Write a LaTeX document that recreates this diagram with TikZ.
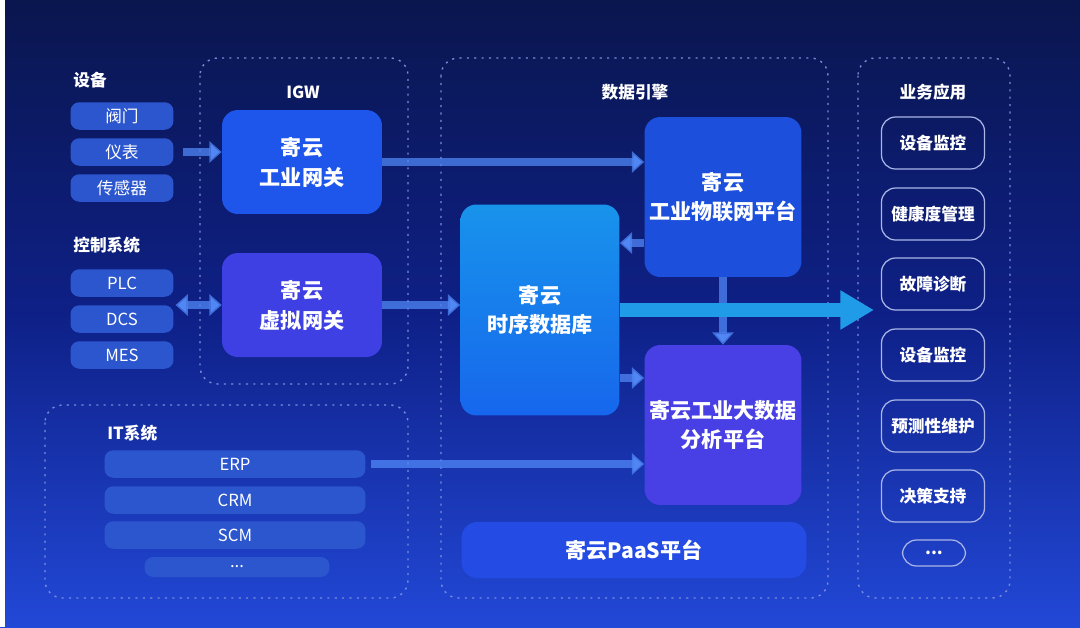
\documentclass[tikz,border=0pt]{standalone}
\usepackage{fontspec}
\setmainfont{Noto Sans CJK SC}
\usetikzlibrary{positioning}
\usetikzlibrary{arrows.meta}

\definecolor{bgtop}{RGB}{10,22,78}
\definecolor{bgmid}{RGB}{14,32,135}
\definecolor{bgbot}{RGB}{34,72,215}
\definecolor{devblue}{RGB}{44,86,205}
\definecolor{gwblue}{RGB}{30,85,235}
\definecolor{gwviolet}{RGB}{62,64,228}
\definecolor{iotblue}{RGB}{28,80,220}
\definecolor{dbblue}{RGB}{28,128,232}
\definecolor{bdviolet}{RGB}{72,64,228}
\definecolor{paasblue}{RGB}{36,76,228}
\definecolor{frameline}{RGB}{120,140,220}
\definecolor{appline}{RGB}{170,182,232}
\definecolor{flowblue}{RGB}{80,135,245}
\definecolor{mainflow}{RGB}{32,155,232}

\begin{document}
\begin{tikzpicture}[
    x=0.02cm, y=-0.02cm,
    grouplabel/.style={text=white, font=\fontsize{9.5}{11}\selectfont\bfseries},
    devbox/.style={rounded corners=5pt, fill=devblue, text=white, inner sep=0pt,
        minimum width=2.06cm, minimum height=0.55cm, font=\fontsize{9.5}{11}\selectfont},
    itbox/.style={devbox, minimum width=5.22cm},
    bigbox/.style={rounded corners=9pt, text=white, align=center, inner sep=0pt,
        font=\fontsize{12}{17}\selectfont\bfseries},
    appbox/.style={rounded corners=8pt, draw=appline, line width=0.7pt, text=white,
        inner sep=0pt, minimum width=2.06cm, minimum height=1.04cm,
        font=\fontsize{9.5}{11}\selectfont\bfseries},
    frame/.style={draw=frameline, line width=0.8pt, rounded corners=10pt,
        dash pattern=on 1.2pt off 3pt},
    flow/.style={line width=4.5pt, draw=flowblue, draw opacity=0.75,
        -{Triangle[length=7pt, width=12pt]}},
    biflow/.style={flow, {Triangle[length=7pt, width=12pt]}-{Triangle[length=7pt, width=12pt]}},
    mainarrow/.style={line width=8pt, draw=mainflow,
        -{Triangle[length=19pt, width=21pt]}}
]

% background
\shade[top color=bgtop, bottom color=bgbot, middle color=bgmid] (0,0) rectangle (1080,627);
\fill[white] (0,0) rectangle (5,627);

% frames
\draw[frame] (200,58) rectangle (408,384);
\draw[frame] (441,58) rectangle (828,598);
\draw[frame] (45,405) rectangle (408,598);
\draw[frame] (858,58) rectangle (1010,598);

% devices
\node[grouplabel, anchor=west, inner sep=0pt] (devlabel) at (73,80) {设备};
\node[devbox] (valve) at (122,116) {阀门};
\node[devbox] (meter) at (122,152) {仪表};
\node[devbox] (sensor) at (122,188) {传感器};

\node[grouplabel, anchor=west, inner sep=0pt] (ctllabel) at (73,245) {控制系统};
\node[devbox] (plc) at (122,283) {PLC};
\node[devbox] (dcs) at (122,319) {DCS};
\node[devbox] (mes) at (122,355) {MES};

% IGW
\node[grouplabel] (igwlabel) at (303,92) {IGW};
\node[bigbox, fill=gwblue, minimum width=3.2cm, minimum height=2.08cm] (gateway) at (302,162) {寄云\\工业网关};
\node[bigbox, fill=gwviolet, minimum width=3.2cm, minimum height=2.08cm] (vgateway) at (302,305) {寄云\\虚拟网关};

% data engine
\node[grouplabel] (enginelabel) at (635,92) {数据引擎};
\node[bigbox, fill=iotblue, minimum width=3.14cm, minimum height=3.2cm] (iot) at (723,197) {寄云\\工业物联网平台};
\node[bigbox, top color=dbblue!85!cyan, bottom color=dbblue!80!blue, minimum width=3.18cm, minimum height=4.22cm] (tsdb) at (540,310) {寄云\\时序数据库};
\node[bigbox, fill=bdviolet, minimum width=3.14cm, minimum height=3.2cm] (bigdata) at (723,425) {寄云工业大数据\\分析平台};
\node[bigbox, fill=paasblue, minimum width=6.9cm, minimum height=1.12cm] (paas) at (634,550) {寄云PaaS平台};

% IT systems
\node[grouplabel, anchor=west, inner sep=0pt] (itlabel) at (107,433) {IT系统};
\node[itbox] (erp) at (235,464) {ERP};
\node[itbox] (crm) at (235,500) {CRM};
\node[itbox] (scm) at (235,535) {SCM};
\node[devbox, minimum width=3.7cm, minimum height=0.4cm] (itmore) at (237,567) {...};

% applications
\node[grouplabel] (applabel) at (933,92) {业务应用};
\node[appbox] (app1) at (933,143) {设备监控};
\node[appbox] (app2) at (933,214) {健康度管理};
\node[appbox] (app3) at (933,284) {故障诊断};
\node[appbox] (app4) at (933,355) {设备监控};
\node[appbox] (app5) at (933,426) {预测性维护};
\node[appbox] (app6) at (933,496) {决策支持};
\node[appbox, minimum width=1.26cm, minimum height=0.52cm] (appmore) at (934,553) {...};

% data flows
\draw[flow, shorten <=5pt] (meter.east) -- (meter.east -| gateway.west);
\draw[biflow, shorten <=1pt] (plc.east |- vgateway.west) -- (vgateway.west);
\draw[flow] (gateway.east) -- (gateway.east -| iot.west);
\draw[flow] (vgateway.east) -- (vgateway.east -| tsdb.west);
\draw[flow] (iot.west |- 0,243) -- (tsdb.east |- 0,243);
\draw[flow] (iot.south) -- (bigdata.north);
\draw[flow] (tsdb.east |- 0,378) -- (bigdata.west |- 0,378);
\draw[flow, shorten <=3pt] (erp.east) -- (erp.east -| bigdata.west);
\draw[mainarrow, shorten >=4pt] (tsdb.east) -- (tsdb.east -| app3.west);

\end{tikzpicture}
\end{document}
